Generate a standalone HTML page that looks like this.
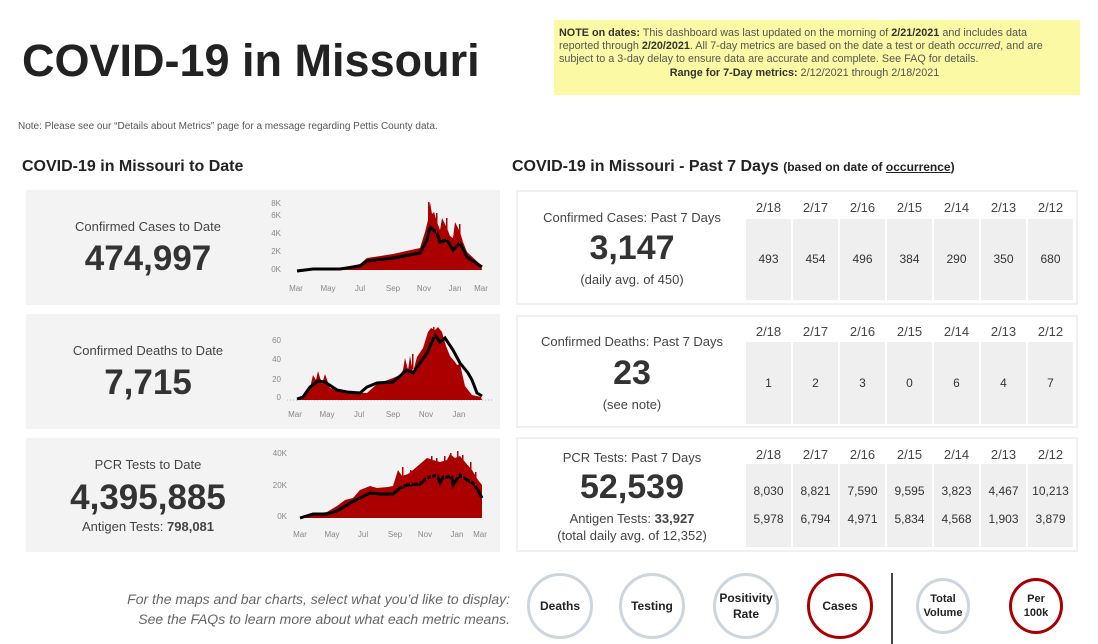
<!DOCTYPE html>
<html><head><meta charset="utf-8"><style>
body{margin:0;width:1098px;height:644px;background:#fff;font-family:"Liberation Sans",sans-serif;color:#333;position:relative;overflow:hidden}
.a{position:absolute}
.card{position:absolute;background:#f3f3f3}
.rc{position:absolute;background:#fff;border:2px solid #f0f0f0;box-sizing:border-box}
.c{text-align:center}
.lbl{font-size:13px;color:#444}
.big{font-weight:bold;color:#333}
.grid{position:absolute;left:228px;display:flex;gap:2px}
.grid div{width:45px;background:#efefef;text-align:center;font-size:12px;color:#333}
.tg div{line-height:28px;padding-top:13px;box-sizing:border-box}
.hdr{position:absolute;left:228px;display:flex;gap:2px}
.hdr div{width:45px;text-align:center;font-size:13px;color:#444}
.btn{position:absolute;border-radius:50%;box-sizing:border-box;border:3px solid #cdd5de;display:flex;align-items:center;justify-content:center;text-align:center;font-size:12px;font-weight:bold;color:#222;line-height:16px}
.red{border-color:#a80000}
</style></head><body>
<div class="a" style="left:22px;top:35px;font-size:45px;font-weight:bold;color:#222">COVID-19 in Missouri</div>
<div class="a" style="left:554px;top:20px;width:526px;height:75px;background:#fbf9a3;font-size:10.8px;line-height:13.2px;color:#555;padding:7px 20px 0 5px;box-sizing:border-box"><b style="color:#333">NOTE on dates:</b> This dashboard was last updated on the morning of <b style="color:#333">2/21/2021</b> and includes data reported through <b style="color:#333">2/20/2021</b>. All 7-day metrics are based on the date a test or death <i>occurred</i>, and are subject to a 3-day delay to ensure data are accurate and complete. See FAQ for details.<div class="c" style="padding-right:10px"><b style="color:#333">Range for 7-Day metrics:</b> 2/12/2021 through 2/18/2021</div></div>
<div class="a" style="left:18px;top:121px;font-size:10px;color:#555">Note: Please see our “Details about Metrics” page for a message regarding Pettis County data.</div>
<div class="a" style="left:22px;top:158px;font-size:16px;font-weight:bold;color:#222">COVID-19 in Missouri to Date</div>
<div class="a" style="left:512px;top:158px;font-size:16px;font-weight:bold;color:#222">COVID-19 in Missouri - Past 7 Days <span style="font-size:12px">(based on date of <u>occurrence</u>)</span></div>

<div class="card" style="left:26px;top:190px;width:474px;height:115px"></div>
<div class="card" style="left:26px;top:314px;width:474px;height:115px"></div>
<div class="card" style="left:26px;top:438px;width:474px;height:114px"></div>
<div class="a c lbl" style="left:26px;top:219px;width:244px">Confirmed Cases to Date</div>
<div class="a c big" style="left:26px;top:239px;width:244px;font-size:35px">474,997</div>
<div class="a c lbl" style="left:26px;top:343px;width:244px">Confirmed Deaths to Date</div>
<div class="a c big" style="left:26px;top:363px;width:244px;font-size:35px">7,715</div>
<div class="a c lbl" style="left:26px;top:457px;width:244px">PCR Tests to Date</div>
<div class="a c big" style="left:26px;top:478px;width:244px;font-size:35px">4,395,885</div>
<div class="a c lbl" style="left:26px;top:519px;width:244px">Antigen Tests: <b>798,081</b></div>

<svg class="a" style="left:0;top:0" width="1098" height="644" font-family="Liberation Sans" font-size="8" fill="#888">
<g text-anchor="end"><text x="281" y="206">8K</text><text x="281" y="218">6K</text><text x="281" y="236">4K</text><text x="281" y="254">2K</text><text x="281" y="272">0K</text></g>
<g text-anchor="middle"><text x="296" y="291">Mar</text><text x="328" y="291">May</text><text x="360" y="291">Jul</text><text x="393" y="291">Sep</text><text x="424" y="291">Nov</text><text x="455" y="291">Jan</text><text x="481" y="291">Mar</text></g>
<polygon fill="#aa0000" points="297,270 313,268 340,268 360,264 367,258 393,254 420,248 425,232 428,220 430,202 432,214 434,212 437,222 440,230 442,218 447,228 450,236 453,238 455,222 460,232 463,242 467,252 481,265 482,270"/>
<polyline fill="none" stroke="#000" stroke-width="3" points="297,271 313,269 340,269 360,266 367,261 393,258 420,253 427,240 430,227 437,233 440,242 447,240 453,250 460,243 467,257 482,267"/>

<g text-anchor="end"><text x="281" y="343">60</text><text x="281" y="362">40</text><text x="281" y="382">20</text><text x="281" y="400">0</text></g>
<g text-anchor="middle"><text x="295" y="417">Mar</text><text x="327" y="417">May</text><text x="359" y="417">Jul</text><text x="393" y="417">Sep</text><text x="426" y="417">Nov</text><text x="459" y="417">Jan</text></g>
<line x1="287" y1="400" x2="492" y2="400" stroke="#bbb" stroke-dasharray="1,2"/>
<polygon fill="#aa0000" points="297,400 303,396 310,388 313,375 316,380 318,371 322,384 325,374 330,388 337,390 347,392 367,393 377,384 385,381 393,378 400,375 403,370 405,358 408,370 410,356 413,372 417,357 423,348 428,332 431,328 435,330 438,327 442,332 446,346 450,356 455,362 457,365 460,364 462,373 465,386 472,395 481,397 482,400"/>
<polyline fill="none" stroke="#000" stroke-width="3" points="297,399 303,397 310,387 318,381 325,382 337,390 347,392 360,393 367,387 377,383 393,382 407,370 413,373 427,353 435,335 440,342 445,338 453,350 460,363 468,373 472,380 477,393 482,396"/>

<g text-anchor="end"><text x="287" y="456">40K</text><text x="287" y="488">20K</text><text x="287" y="519">0K</text></g>
<g text-anchor="middle"><text x="300" y="537">Mar</text><text x="332" y="537">May</text><text x="363" y="537">Jul</text><text x="395" y="537">Sep</text><text x="425" y="537">Nov</text><text x="457" y="537">Jan</text><text x="480" y="537">Mar</text></g>
<polygon fill="#aa0000" points="300,518 313,514 327,512 337,506 345,500 353,498 360,490 370,486 377,488 388,487 393,486 398,470 402,476 408,474 413,470 420,464 427,458 433,460 440,462 447,460 450,454 455,458 460,456 465,462 472,470 478,480 482,485 482,518"/>
<polyline fill="none" stroke="#000" stroke-width="3" points="300,518 313,514 327,514 337,511 347,505 350,503 360,498 370,493 380,494 393,494 400,488 407,485 420,484 427,478 437,475 440,483 443,477 452,477 453,485 460,475 467,480 473,483 478,490 482,498"/>
<g fill="#aa0000">
<rect x="402" y="467" width="1.5" height="20"/><rect x="410" y="470" width="1.5" height="15"/><rect x="418" y="466" width="1.5" height="18"/><rect x="426" y="460" width="1.5" height="20"/><rect x="431" y="456" width="1.5" height="22"/><rect x="436" y="458" width="1.5" height="20"/><rect x="444" y="456" width="1.5" height="22"/><rect x="450" y="453" width="1.5" height="24"/><rect x="457" y="451" width="1.5" height="26"/><rect x="462" y="455" width="1.5" height="24"/><rect x="470" y="462" width="1.5" height="20"/><rect x="475" y="472" width="1.5" height="14"/>
<rect x="428" y="202" width="1.5" height="25"/><rect x="436" y="213" width="1.5" height="20"/><rect x="446" y="218" width="1.5" height="22"/><rect x="459" y="224" width="1.5" height="20"/>
<rect x="433" y="327" width="1.5" height="10"/><rect x="412" y="354" width="1.5" height="15"/>
</g>
</svg>

<div class="rc" style="left:516px;top:190px;width:562px;height:115px">
 <div class="a c lbl" style="left:0;top:18px;width:228px">Confirmed Cases: Past 7 Days</div>
 <div class="a c big" style="left:0;top:37px;width:228px;font-size:34px">3,147</div>
 <div class="a c lbl" style="left:0;top:80px;width:228px">(daily avg. of 450)</div>
 <div class="hdr" style="top:8px"><div>2/18</div><div>2/17</div><div>2/16</div><div>2/15</div><div>2/14</div><div>2/13</div><div>2/12</div></div>
 <div class="grid" style="top:27px;height:81px;line-height:81px"><div>493</div><div>454</div><div>496</div><div>384</div><div>290</div><div>350</div><div>680</div></div>
</div>
<div class="rc" style="left:516px;top:315px;width:562px;height:113px">
 <div class="a c lbl" style="left:0;top:17px;width:228px">Confirmed Deaths: Past 7 Days</div>
 <div class="a c big" style="left:0;top:37px;width:228px;font-size:34px">23</div>
 <div class="a c lbl" style="left:0;top:80px;width:228px">(see note)</div>
 <div class="hdr" style="top:7px"><div>2/18</div><div>2/17</div><div>2/16</div><div>2/15</div><div>2/14</div><div>2/13</div><div>2/12</div></div>
 <div class="grid" style="top:25px;height:82px;line-height:82px"><div>1</div><div>2</div><div>3</div><div>0</div><div>6</div><div>4</div><div>7</div></div>
</div>
<div class="rc" style="left:516px;top:437px;width:562px;height:115px">
 <div class="a c lbl" style="left:0;top:11px;width:228px">PCR Tests: Past 7 Days</div>
 <div class="a c big" style="left:0;top:29px;width:228px;font-size:34px">52,539</div>
 <div class="a c lbl" style="left:0;top:72px;width:228px">Antigen Tests: <b>33,927</b></div>
 <div class="a c lbl" style="left:0;top:89px;width:228px">(total daily avg. of 12,352)</div>
 <div class="hdr" style="top:8px"><div>2/18</div><div>2/17</div><div>2/16</div><div>2/15</div><div>2/14</div><div>2/13</div><div>2/12</div></div>
 <div class="grid tg" style="top:25px;height:83px"><div>8,030<br>5,978</div><div>8,821<br>6,794</div><div>7,590<br>4,971</div><div>9,595<br>5,834</div><div>3,823<br>4,568</div><div>4,467<br>1,903</div><div>10,213<br>3,879</div></div>
</div>

<div class="a" style="left:60px;top:589px;width:450px;text-align:right;font-size:14px;font-style:italic;color:#666;line-height:20px">For the maps and bar charts, select what you’d like to display:<br>See the FAQs to learn more about what each metric means.</div>
<div class="btn" style="left:527px;top:573px;width:66px;height:66px">Deaths</div>
<div class="btn" style="left:619px;top:573px;width:66px;height:66px">Testing</div>
<div class="btn" style="left:713px;top:573px;width:66px;height:66px">Positivity<br>Rate</div>
<div class="btn red" style="left:807px;top:573px;width:66px;height:66px">Cases</div>
<div class="a" style="left:891px;top:573px;width:2px;height:71px;background:#444"></div>
<div class="btn" style="left:916px;top:578px;width:54px;height:56px;font-size:11px;line-height:14px">Total<br>Volume</div>
<div class="btn red" style="left:1009px;top:578px;width:54px;height:56px;font-size:11px;line-height:14px">Per<br>100k</div>
</body></html>
